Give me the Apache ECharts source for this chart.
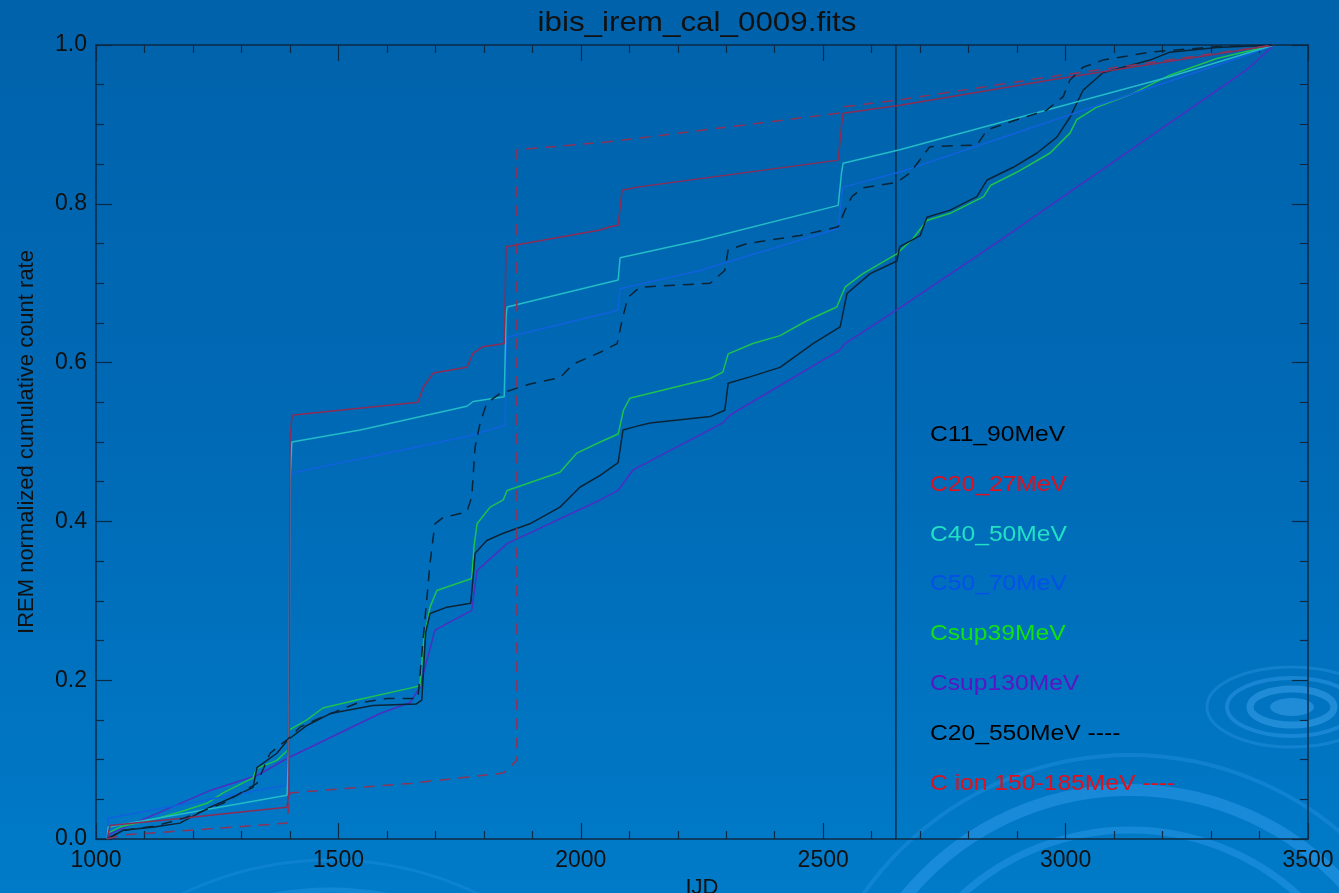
<!DOCTYPE html>
<html>
<head>
<meta charset="utf-8">
<script src="https://cdn.jsdelivr.net/npm/echarts@6/dist/echarts.min.js"></script>
<style>
html,body{margin:0;padding:0;width:1339px;height:893px;overflow:hidden;background:linear-gradient(to bottom,#0062ab 0%,#006ab6 50%,#007bc8 100%);}
#c{width:1339px;height:893px;}
</style>
</head>
<body>
<div id="c"></div>
<script>
// ---- data (x = IJD, y = normalized cumulative count rate) ----
const xTicks = [1000, 1500, 2000, 2500, 3000, 3500];
const yTicks = [0.0, 0.2, 0.4, 0.6, 0.8, 1.0];
const markerIJD = 2650;

const c11_90 = [[1023,0],[1056,0.011],[1120,0.015],[1173,0.02],[1235,0.04],[1276,0.051],[1324,0.065],[1332,0.09],[1373,0.108],[1396,0.125],[1435,0.143],[1483,0.158],[1571,0.168],[1660,0.170],[1672,0.175],[1680,0.26],[1689,0.284],[1724,0.292],[1773,0.297],[1778,0.33],[1782,0.36],[1806,0.376],[1840,0.385],[1895,0.397],[1957,0.418],[1998,0.443],[2040,0.458],[2077,0.474],[2087,0.515],[2116,0.520],[2143,0.524],[2267,0.532],[2297,0.540],[2304,0.574],[2349,0.582],[2411,0.594],[2479,0.624],[2535,0.645],[2549,0.687],[2597,0.712],[2652,0.728],[2658,0.746],[2700,0.760],[2714,0.783],[2762,0.792],[2817,0.809],[2838,0.830],[2892,0.846],[2941,0.864],[2982,0.884],[3009,0.909],[3036,0.943],[3077,0.965],[3174,0.981],[3215,0.991],[3312,0.997],[3430,1.0]];

const c20_27 = [[1023,0],[1029,0.017],[1194,0.027],[1250,0.031],[1394,0.040],[1398,0.058],[1400,0.50],[1404,0.531],[1407,0.534],[1664,0.550],[1675,0.569],[1696,0.587],[1765,0.594],[1778,0.612],[1798,0.620],[1842,0.624],[1846,0.746],[1848,0.748],[2040,0.767],[2060,0.771],[2077,0.773],[2082,0.80],[2085,0.817],[2116,0.821],[2531,0.855],[2538,0.90],[2541,0.914],[2658,0.924],[2968,0.956],[3430,1.0]];

const c40_50 = [[1023,0],[1025,0.015],[1394,0.055],[1398,0.12],[1400,0.45],[1404,0.5],[1545,0.515],[1765,0.545],[1778,0.551],[1842,0.557],[1846,0.66],[1848,0.670],[2077,0.704],[2081,0.732],[2246,0.754],[2531,0.798],[2538,0.84],[2541,0.851],[2658,0.868],[3215,0.960],[3430,1.0]];

const c50_70 = [[1023,0],[1025,0.026],[1394,0.068],[1398,0.2],[1401,0.44],[1404,0.461],[1765,0.507],[1844,0.521],[1846,0.62],[1848,0.632],[2077,0.666],[2081,0.693],[2246,0.716],[2531,0.769],[2538,0.81],[2541,0.821],[2658,0.840],[3374,0.987],[3430,1.0]];

const csup39 = [[1023,0.007],[1050,0.015],[1126,0.026],[1173,0.034],[1229,0.045],[1262,0.058],[1324,0.077],[1332,0.089],[1373,0.099],[1396,0.112],[1398,0.137],[1435,0.150],[1468,0.165],[1538,0.175],[1648,0.190],[1668,0.193],[1676,0.25],[1689,0.292],[1703,0.313],[1775,0.328],[1780,0.37],[1786,0.397],[1813,0.418],[1840,0.427],[1848,0.439],[1957,0.462],[1992,0.486],[2040,0.5],[2077,0.510],[2088,0.54],[2101,0.555],[2267,0.580],[2293,0.588],[2304,0.611],[2355,0.624],[2411,0.634],[2467,0.653],[2528,0.670],[2545,0.695],[2582,0.712],[2652,0.737],[2685,0.756],[2714,0.779],[2762,0.788],[2831,0.809],[2845,0.823],[2900,0.840],[2968,0.864],[3009,0.889],[3023,0.906],[3065,0.922],[3139,0.939],[3215,0.962],[3312,0.983],[3430,1.0]];

const csup130 = [[1023,0],[1030,0.007],[1235,0.061],[1332,0.080],[1396,0.102],[1586,0.158],[1648,0.172],[1668,0.191],[1699,0.263],[1775,0.288],[1786,0.338],[1848,0.372],[2040,0.427],[2077,0.439],[2108,0.465],[2293,0.524],[2308,0.534],[2535,0.616],[2545,0.624],[2658,0.669],[2865,0.754],[3009,0.815],[3374,0.969],[3430,1.0]];

const c20_550 = [[1023,0],[1056,0.011],[1120,0.016],[1180,0.026],[1262,0.045],[1332,0.070],[1359,0.108],[1394,0.125],[1421,0.141],[1468,0.154],[1538,0.171],[1600,0.177],[1664,0.177],[1676,0.26],[1689,0.347],[1699,0.397],[1716,0.405],[1765,0.412],[1775,0.431],[1782,0.494],[1792,0.523],[1806,0.549],[1833,0.561],[1895,0.573],[1957,0.581],[1984,0.598],[2040,0.613],[2075,0.624],[2085,0.653],[2097,0.682],[2122,0.695],[2267,0.700],[2297,0.716],[2304,0.742],[2343,0.750],[2452,0.760],[2531,0.771],[2545,0.792],[2559,0.809],[2582,0.820],[2652,0.827],[2679,0.839],[2704,0.859],[2720,0.872],[2817,0.874],[2838,0.893],[2885,0.903],[2961,0.918],[2995,0.935],[3009,0.956],[3036,0.972],[3077,0.981],[3174,0.991],[3312,0.998],[3430,1.0]];

const cion = [[1023,0],[1056,0.005],[1194,0.011],[1394,0.020],[1400,0.058],[1648,0.070],[1840,0.083],[1868,0.099],[1868,0.868],[2057,0.878],[2531,0.914],[2541,0.922],[2658,0.931],[2968,0.960],[3430,1.0]];

const legendNames = ['C11_90MeV','C20_27MeV','C40_50MeV','C50_70MeV','Csup39MeV','Csup130MeV','C20_550MeV ----','C ion 150-185MeV ----'];
const legendColors = ['#000000','#e0101e','#22e0c4','#0050ea','#12e012','#5a14c4','#000000','#e0101e'];
const titleText = 'ibis_irem_cal_0009.fits';

// ---- chart ----
const chart = echarts.init(document.getElementById('c'), null, {renderer:'canvas'});
const axisCol = '#0b2a45';
const FONT = 'Liberation Sans, Arial, sans-serif';
const SX = 1.12; // horizontal stretch of the reference text

function lineSeries(name, data, color, dashed){
  return {
    name, type:'line', data, showSymbol:false, symbol:'none', animation:false,
    lineStyle:{color, width:1.5, type: dashed ? [11,8] : 'solid'},
    z: 3
  };
}

const legendGraphics = legendNames.map((t,i)=>({
  type:'text', x:930, y: 435 + i*49.8, scaleX:SX,
  style:{text:t, fill:legendColors[i], font:'22px '+FONT, textAlign:'left', textVerticalAlign:'middle'}, z:10
}));

const deco = [
  // ripple near bottom-right
  {type:'ellipse', shape:{cx:1292, cy:707, rx:22, ry:9}, style:{fill:'rgba(70,170,245,0.45)'}, z:-1, silent:true},
  {type:'ellipse', shape:{cx:1292, cy:707, rx:42, ry:18}, style:{fill:'none', stroke:'rgba(70,170,245,0.45)', lineWidth:7}, z:-1, silent:true},
  {type:'ellipse', shape:{cx:1292, cy:707, rx:65, ry:29}, style:{fill:'none', stroke:'rgba(70,170,245,0.35)', lineWidth:4}, z:-1, silent:true},
  {type:'ellipse', shape:{cx:1292, cy:707, rx:85, ry:40}, style:{fill:'none', stroke:'rgba(70,170,245,0.25)', lineWidth:3}, z:-1, silent:true},
  // large arcs bottom-right
  {type:'circle', shape:{cx:1130, cy:1080, r:290}, style:{fill:'none', stroke:'rgba(60,165,245,0.40)', lineWidth:12}, z:-1, silent:true},
  {type:'circle', shape:{cx:1130, cy:1080, r:250}, style:{fill:'none', stroke:'rgba(60,165,245,0.35)', lineWidth:7}, z:-1, silent:true},
  {type:'circle', shape:{cx:1130, cy:1080, r:325}, style:{fill:'none', stroke:'rgba(60,165,245,0.25)', lineWidth:4}, z:-1, silent:true},
  // faint arcs bottom-left
  {type:'circle', shape:{cx:330, cy:1200, r:310}, style:{fill:'none', stroke:'rgba(60,165,245,0.30)', lineWidth:5}, z:-1, silent:true},
  {type:'circle', shape:{cx:330, cy:1200, r:340}, style:{fill:'none', stroke:'rgba(60,165,245,0.20)', lineWidth:3}, z:-1, silent:true},
  // title
  {type:'text', x:697, y:23, scaleX:SX, style:{text:titleText, fill:'#111', font:'28px '+FONT, textAlign:'center', textVerticalAlign:'middle'}, z:10}
];

const baseX = {
  type:'value', min:1000, max:3500, interval:500,
  axisLine:{show:true, onZero:false, lineStyle:{color:axisCol, width:1.5}},
  axisTick:{show:true, inside:true, length:16, lineStyle:{color:axisCol, width:1.2}},
  minorTick:{show:true, splitNumber:5, length:8, lineStyle:{color:axisCol, width:1.2}},
  splitLine:{show:false}
};
const baseY = {
  type:'value', min:0, max:1, interval:0.2,
  axisLine:{show:true, onZero:false, lineStyle:{color:axisCol, width:1.5}},
  axisTick:{show:true, inside:true, length:16, lineStyle:{color:axisCol, width:1.2}},
  minorTick:{show:true, splitNumber:4, length:8, lineStyle:{color:axisCol, width:1.2}},
  splitLine:{show:false}
};

const option = {
  backgroundColor:'transparent',
  animation:false,
  grid:{left:96, right:31, top:45, bottom:54, containLabel:false, outerBoundsMode:'none'},
  graphic: deco.concat(legendGraphics),
  xAxis:[
    Object.assign({}, baseX, {
      position:'bottom',
      name:'IJD', nameLocation:'middle', nameGap:35,
      nameTextStyle:{color:'#111', fontSize:22, fontFamily:FONT},
      axisLabel:{show:true, margin:10, color:'#111', fontSize:23, fontFamily:FONT,
        formatter:(v)=> xTicks.includes(v) ? String(v) : ''}
    }),
    Object.assign({}, baseX, {position:'top', axisLabel:{show:false}})
  ],
  yAxis:[
    Object.assign({}, baseY, {
      position:'left',
      name:'IREM normalized cumulative count rate', nameLocation:'middle', nameGap:58, nameRotate:90,
      nameTextStyle:{color:'#111', fontSize:22, fontFamily:FONT},
      axisLabel:{show:true, margin:9, color:'#111', fontSize:23, fontFamily:FONT,
        formatter:(v)=> yTicks.some(t=>Math.abs(t-v)<1e-9) ? v.toFixed(1) : ''}
    }),
    Object.assign({}, baseY, {position:'right', axisLabel:{show:false}})
  ],
  series:[
    lineSeries('Csup130MeV', csup130, '#4a2fc2', false),
    lineSeries('Csup39MeV', csup39, '#1ec24e', false),
    lineSeries('C11_90MeV', c11_90, '#0b2436', false),
    lineSeries('C50_70MeV', c50_70, '#1062dc', false),
    lineSeries('C40_50MeV', c40_50, '#22bcc8', false),
    lineSeries('C20_27MeV', c20_27, '#8c2c55', false),
    lineSeries('C20_550MeV', c20_550, '#0b2436', true),
    lineSeries('C ion 150-185MeV', cion, '#8c3358', true),
    {
      name:'marker', type:'line', showSymbol:false, symbol:'none', animation:false,
      data:[[markerIJD,0],[markerIJD,1]],
      lineStyle:{color:'#0b2436', width:1.3}, z:2
    }
  ]
};
chart.setOption(option);
</script>
</body>
</html>
